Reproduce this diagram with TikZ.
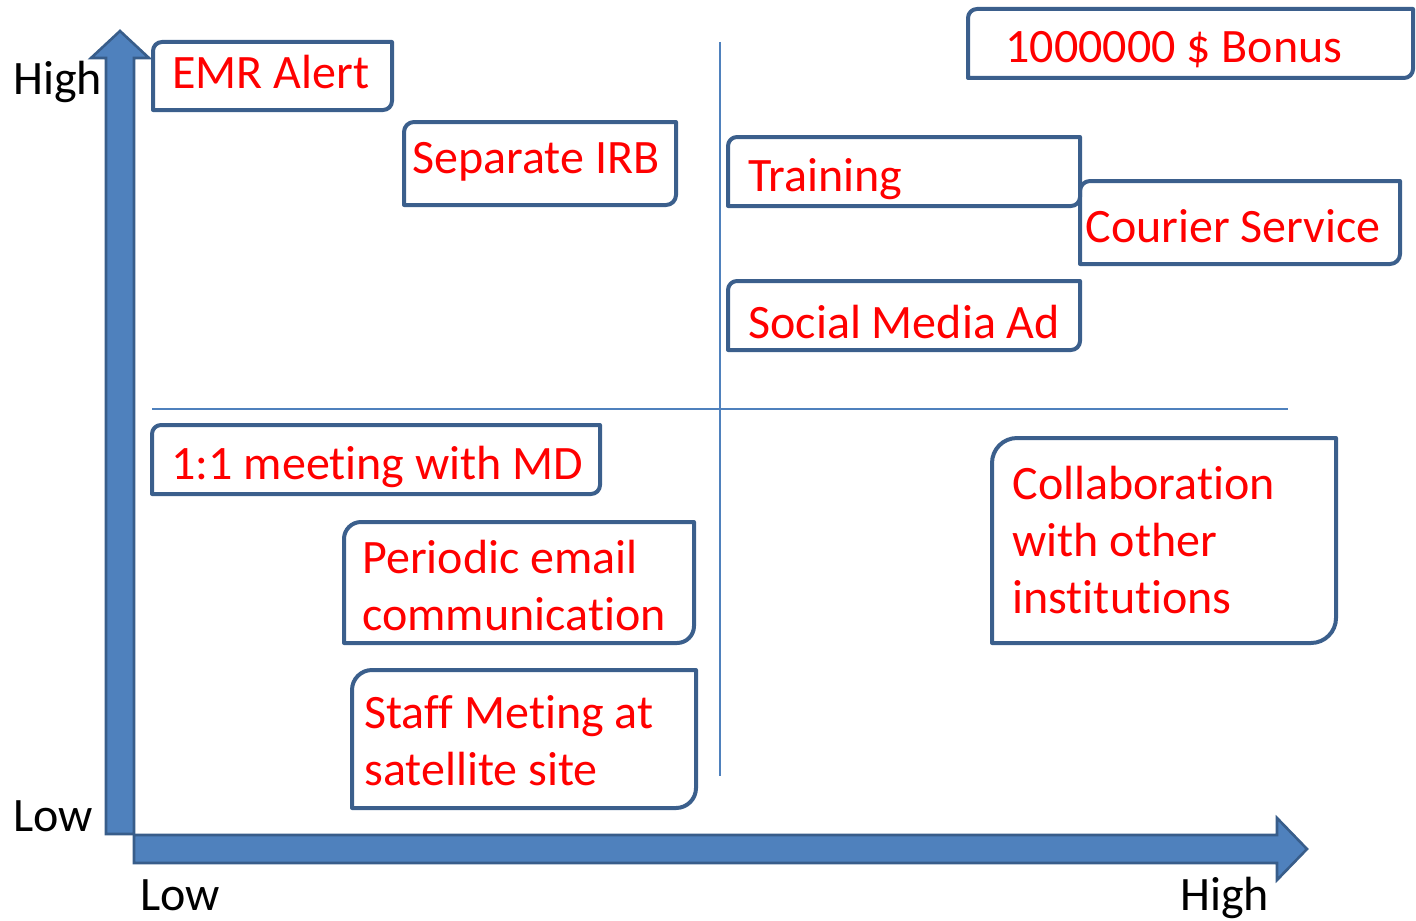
\documentclass[tikz,border=0pt]{standalone}
\usepackage{fontspec}
\setmainfont{Carlito}[Ligatures=NoCommon]
\definecolor{axfill}{HTML}{4F81BD}
\definecolor{axline}{HTML}{385D8A}
\definecolor{boxline}{HTML}{3B5F8C}
\definecolor{txtred}{HTML}{FF0000}
\tikzset{
  boxln/.style={draw=boxline, line width=2pt, line join=round},
  axisarrow/.style={fill=axfill, draw=axline, line width=1.3pt, line join=miter},
  divider/.style={draw=axfill, line width=1pt},
  lbl/.style={inner sep=0pt, anchor=base west, text=txtred, font=\fontsize{24}{28.5}\selectfont, align=left},
  axlbl/.style={inner sep=0pt, anchor=base west, text=black, font=\fontsize{24}{28.5}\selectfont}
}
\newcommand{\dbox}[5]{\draw[boxln] (#1,{#2+#5}) .. controls (#1,{#2+0.4477*#5}) and ({#1+0.4477*#5},#2) .. ({#1+#5},#2) -- (#3,#2) -- (#3,{#4-#5}) .. controls (#3,{#4-0.4477*#5}) and ({#3-0.4477*#5},#4) .. ({#3-#5},#4) -- (#1,#4) -- cycle;}
\begin{document}
\begin{tikzpicture}[x=0.5pt,y=-0.5pt]
\useasboundingbox (0,0) rectangle (1416,920);
% dividers
\coordinate (vtop) at (720,42);
\coordinate (vbot) at (720,776);
\coordinate (hl) at (152,409);
\coordinate (hr) at (1288,409);
\draw[divider] (vtop) -- (vbot);
\draw[divider] (hl) -- (hr);
% axes
\draw[axisarrow] (106,834) -- (106,58) -- (91,58) -- (120,31) -- (149,58) -- (134,58) -- (134,834) -- cycle;
\draw[axisarrow] (134,835) -- (1277,835) -- (1277,818) -- (1307,849) -- (1277,880) -- (1277,863) -- (134,863) -- cycle;
% axis labels
\node[axlbl] (yhigh) at (13,95) {High};
\node[axlbl] (ylow) at (13,831) {Low};
\node[axlbl] (xlow) at (140,910) {Low};
\node[axlbl] (xhigh) at (1180,910) {High};
% boxes
\dbox{153}{42}{392}{110}{9}
\node[lbl] (emr) at (172,89) {EMR Alert};
\dbox{404}{122}{676}{205}{10}
\node[lbl] (irb) at (412,173) {Separate IRB};
\dbox{968}{9}{1413}{78}{9}
\node[lbl] (bonus) at (1005,63) {1000000 \$ Bonus};
\dbox{728}{137}{1080}{206}{9}
\node[lbl] (train) at (748,191) {Training};
\dbox{1080}{181}{1400}{264}{10}
\node[lbl] (courier) at (1085,242) {Courier Service};
\dbox{728}{281}{1080}{350}{9}
\node[lbl] (social) at (748,338) {Social Media Ad};
\dbox{152}{425}{600}{494}{9}
\node[lbl] (meet) at (171,479) {1:1 meeting with MD};
\dbox{344}{522}{694}{643}{17}
\node[lbl] (email) at (362,630) {Periodic email\\communication};
\dbox{352}{670}{696}{808}{20}
\node[lbl] (staff) at (364,785) {Staff Meting at\\satellite site};
\dbox{992}{438}{1336}{643}{25}
\node[lbl] (collab) at (1012,613) {Collaboration\\with other\\institutions};
\end{tikzpicture}
\end{document}
